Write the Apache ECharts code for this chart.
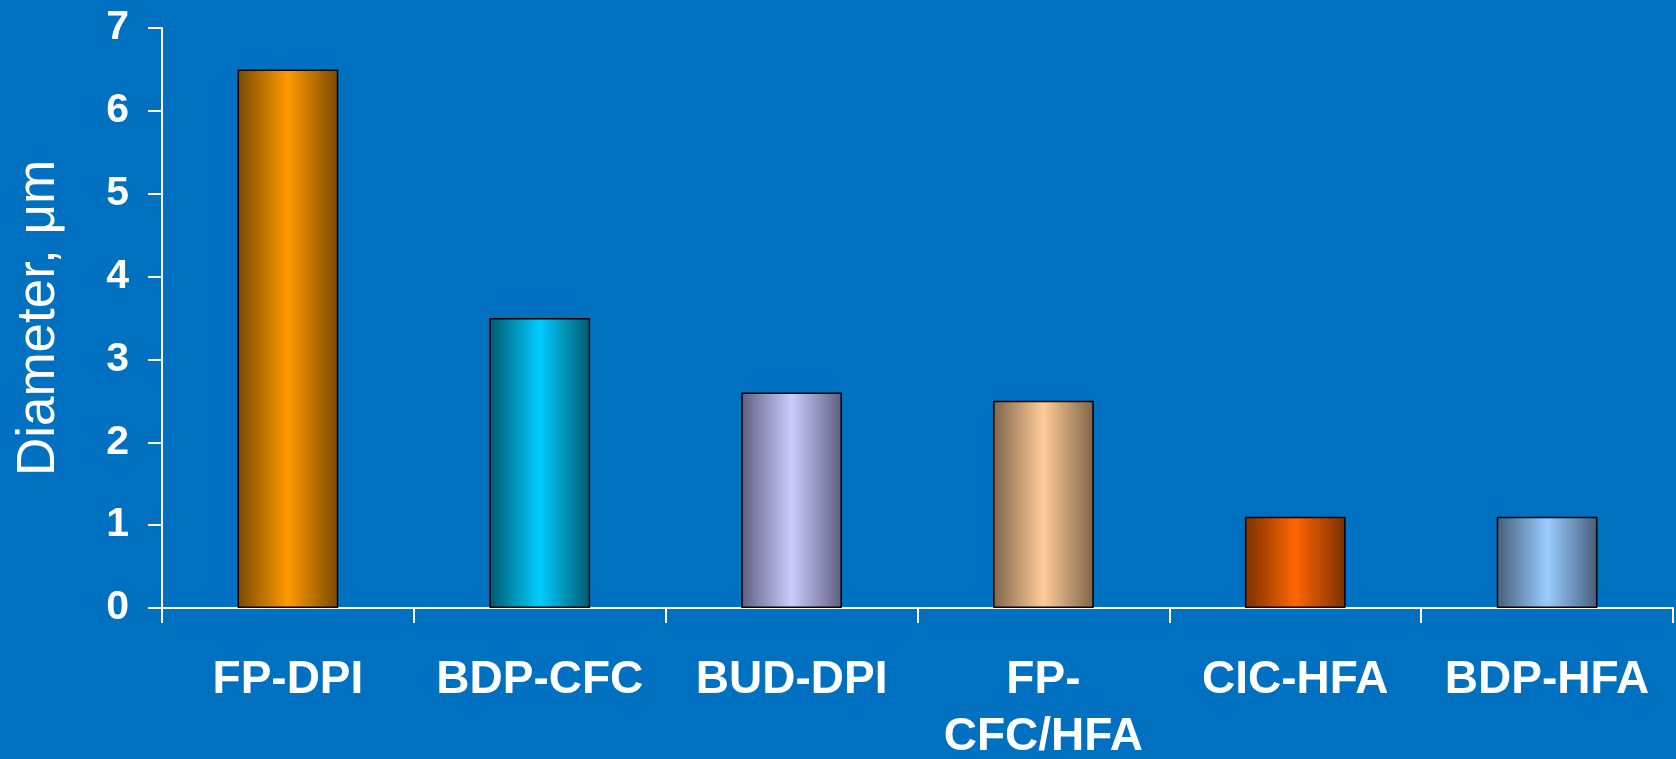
<!DOCTYPE html>
<html>
<head>
<meta charset="utf-8">
<script src="https://cdn.jsdelivr.net/npm/echarts@6/dist/echarts.min.js"></script>
<style>
  html, body { margin: 0; padding: 0; background: #0070C0; }
  #chart { width: 1676px; height: 759px; }
</style>
</head>
<body>
<div id="chart"></div>
<script>
// data
var categories = ['FP-DPI', 'BDP-CFC', 'BUD-DPI', 'FP-CFC/HFA', 'CIC-HFA', 'BDP-HFA'];
var diameters = [6.5, 3.5, 2.6, 2.5, 1.1, 1.1];
var yTicks = [0, 1, 2, 3, 4, 5, 6, 7];

// bar shading: [edge colour, centre colour]
var shades = [
  ['#7a4a00', '#ff9900'],
  ['#005a70', '#00ccff'],
  ['#5e5e80', '#ccccff'],
  ['#7d6448', '#ffcc99'],
  ['#7a3000', '#ff6600'],
  ['#465e7a', '#99ccff']
];

var font = '"Liberation Sans", Arial, sans-serif';
var chart = echarts.init(document.getElementById('chart'));

var barData = diameters.map(function (v, i) {
  return {
    value: v,
    itemStyle: {
      color: new echarts.graphic.LinearGradient(0, 0, 1, 0, [
        { offset: 0, color: shades[i][0] },
        { offset: 0.5, color: shades[i][1] },
        { offset: 1, color: shades[i][0] }
      ])
    }
  };
});

var option = {
  backgroundColor: '#0070C0',
  animation: false,
  grid: { left: 162, right: 3, top: 28, bottom: 151, outerBoundsMode: 'none' },
  xAxis: {
    type: 'category',
    data: categories,
    axisLine: { lineStyle: { color: '#ffffff', width: 2 } },
    axisTick: { show: true, length: 15, lineStyle: { color: '#ffffff', width: 2 } },
    axisLabel: {
      color: '#ffffff',
      fontFamily: font,
      fontWeight: 'bold',
      fontSize: 46,
      lineHeight: 57,
      margin: 44,
      interval: 0,
      formatter: function (v) {
        // long names break after the hyphen, as in the slide
        if (v.length > 8 && v.indexOf('-') > 0) {
          var k = v.indexOf('-') + 1;
          return v.slice(0, k) + '\n' + v.slice(k);
        }
        return v;
      }
    }
  },
  yAxis: {
    type: 'value',
    min: yTicks[0],
    max: yTicks[yTicks.length - 1],
    interval: 1,
    name: 'Diameter, \u03bcm',
    nameLocation: 'middle',
    nameGap: 96,
    nameTextStyle: { color: '#ffffff', fontFamily: font, fontSize: 53 },
    splitLine: { show: false },
    axisLine: { show: true, lineStyle: { color: '#ffffff', width: 2 } },
    axisTick: { show: true, length: 14, lineStyle: { color: '#ffffff', width: 2 } },
    axisLabel: {
      color: '#ffffff',
      fontFamily: font,
      fontWeight: 'bold',
      fontSize: 41,
      margin: 33
    }
  },
  series: [{
    type: 'bar',
    data: barData,
    barWidth: '40%',
    itemStyle: { borderColor: '#000000', borderWidth: 1.5 }
  }]
};

chart.setOption(option);
</script>
</body>
</html>
